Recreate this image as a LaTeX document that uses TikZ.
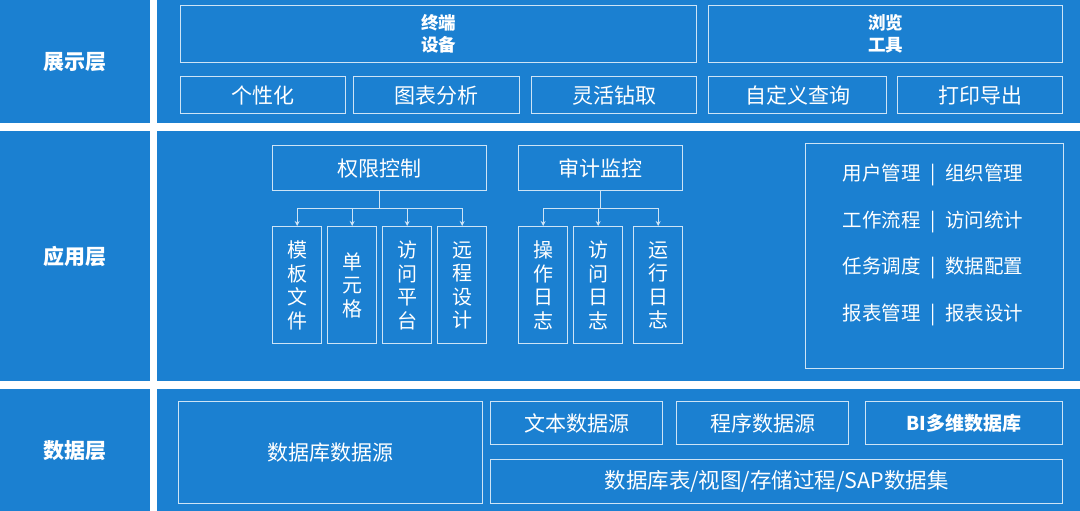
\documentclass[tikz,border=0pt]{standalone}
\usepackage{fontspec}
\setmainfont{Noto Sans CJK SC}
\usetikzlibrary{arrows.meta}
\definecolor{layerblue}{RGB}{27,128,209}
\definecolor{edgeblue}{RGB}{205,228,246}
\begin{document}
\begin{tikzpicture}[x=1pt,y=-1pt,
    layer/.style={fill=layerblue},
    side/.style={fill=layerblue,text=white,anchor=north west,inner sep=0pt,minimum width=150pt,font=\bfseries\fontsize{21}{24}\selectfont},
    cell/.style={draw=edgeblue,line width=1.4pt,text=white,anchor=north west,inner sep=0pt,align=center,font=\fontsize{21}{24}\selectfont},
    col/.style={cell,minimum width=49pt,minimum height=117pt,font=\fontsize{20}{23.5}\selectfont},
    link/.style={draw=edgeblue,line width=1.3pt},
    tip/.style={link,-{Stealth[length=5pt,width=5pt]}}
    ]
    \useasboundingbox[fill=white] (0,0) rectangle (1080,511);

    \node[side,minimum height=123pt] (zs) at (0,0) {展示层};
    \node[side,minimum height=250pt] (yy) at (0,131) {应用层};
    \node[side,minimum height=122pt] (sj) at (0,389) {数据层};

    \fill[layer] (157,0) rectangle (1080,123);
    \fill[layer] (157,131) rectangle (1080,381);
    \fill[layer] (157,389) rectangle (1080,511);

    \node[cell,minimum width=516pt,minimum height=57pt,font=\bfseries\fontsize{17.5}{22}\selectfont] (zd) at (180,5) {终端\\设备};
    \node[cell,minimum width=354pt,minimum height=57pt,font=\bfseries\fontsize{17.5}{22}\selectfont] (ll) at (708,5) {浏览\\工具};
    \node[cell,minimum width=165pt,minimum height=37pt] (gx) at (180,76) {个性化};
    \node[cell,minimum width=166pt,minimum height=37pt] (tb) at (353,76) {图表分析};
    \node[cell,minimum width=165pt,minimum height=37pt] (lh) at (531,76) {灵活钻取};
    \node[cell,minimum width=178pt,minimum height=37pt] (zdy) at (708,76) {自定义查询};
    \node[cell,minimum width=165pt,minimum height=37pt] (dy) at (897,76) {打印导出};

    \node[cell,minimum width=214pt,minimum height=45pt] (qx) at (272,145) {权限控制};
    \node[cell,minimum width=164pt,minimum height=45pt] (sk) at (518,145) {审计监控};
    \node[col] (mb) at (272,226) {模\\板\\文\\件};
    \node[col] (dyg) at (327,226) {单\\元\\格};
    \node[col] (fp) at (382,226) {访\\问\\平\\台};
    \node[col] (yc) at (437,226) {远\\程\\设\\计};
    \node[col] (cz) at (518,226) {操\\作\\日\\志};
    \node[col] (fr) at (573,226) {访\\问\\日\\志};
    \node[col] (yx) at (633,226) {运\\行\\日\\志};

    \path (qx.south) ++(0,17) coordinate (qxj);
    \path (sk.south) ++(0,17) coordinate (skj);
    \draw[link] (qx.south) -- (qxj);
    \draw[link] (sk.south) -- (skj);
    \foreach \c in {mb,dyg,fp,yc} \draw[tip] (qxj) -| (\c.north);
    \foreach \c in {cz,fr,yx} \draw[tip] (skj) -| (\c.north);

    \node[cell,minimum width=258pt,minimum height=225pt] (gn) at (805,143) {};
    \node[text=white,align=center,font=\fontsize{19.5}{46.7}\selectfont] (gnt) at (933,245) {用户管理\enspace{}|\enspace{}组织管理\\工作流程\enspace{}|\enspace{}访问统计\\任务调度\enspace{}|\enspace{}数据配置\\报表管理\enspace{}|\enspace{}报表设计};

    \node[cell,minimum width=304pt,minimum height=102pt] (ks) at (178,401) {数据库数据源};
    \node[cell,minimum width=172pt,minimum height=43pt] (wb) at (490,401) {文本数据源};
    \node[cell,minimum width=172pt,minimum height=43pt] (cx) at (676,401) {程序数据源};
    \node[cell,minimum width=197pt,minimum height=43pt,font=\bfseries\fontsize{19}{22}\selectfont] (bi) at (865,401) {BI多维数据库};
    \node[cell,minimum width=572pt,minimum height=44pt,font=\fontsize{21.5}{24}\selectfont] (kb) at (490,459) {数据库表/视图/存储过程/SAP数据集};
\end{tikzpicture}
\end{document}
